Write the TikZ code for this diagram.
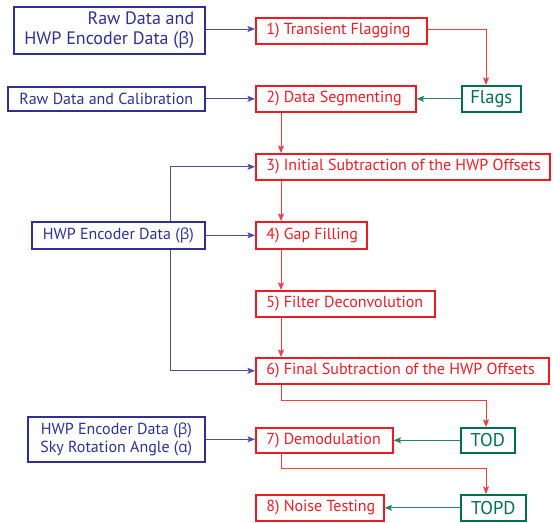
\documentclass[tikz,border=0pt]{standalone}
\usepackage{fontspec}
\setmainfont{PT Sans}
\newfontfamily\grk{Open Sans}[Scale=0.95]
\usetikzlibrary{arrows.meta,calc}
\setlength{\parindent}{0pt}
\definecolor{cred}{RGB}{237,28,36}
\definecolor{cblue}{RGB}{46,49,146}
\definecolor{cgreen}{RGB}{0,112,74}
\newcommand{\gb}{{\grk β}}
\newcommand{\ga}{{\grk α}}
\tikzset{
  every node/.style={font=\fontsize{16}{18.5}\selectfont},
  stepbox/.style={draw=cred, text=cred, line width=1.6pt, anchor=north west, inner sep=0pt},
  inbox/.style={draw=cblue, text=cblue, line width=1.6pt, anchor=north west, inner sep=0pt},
  bigbox/.style={inbox, font=\fontsize{18}{20.5}\selectfont},
  outbox/.style={draw=cgreen, text=cgreen, line width=1.6pt, anchor=north west, inner sep=0pt, font=\fontsize{18.5}{20}\selectfont},
  tip/.style={-{Stealth[length=7.5pt,width=6pt,inset=1.5pt]}},
  redline/.style={tip, draw=cred!85, line width=0.9pt},
  blueline/.style={tip, draw=cblue!85, line width=0.9pt},
  greenline/.style={tip, draw=cgreen!85, line width=0.9pt},
}
% generic box: name, style, x1, y1, x2, y2, text, alignment
\newcommand{\mybox}[8]{%
  \pgfmathsetlengthmacro{\bw}{(#5-#3)*1pt}%
  \pgfmathsetlengthmacro{\bh}{(#6-#4)*1pt}%
  \node[#2, minimum width=\bw, minimum height=\bh, align=#8] (#1) at (#3,#4) {#7};}
% step box with left aligned text: name, x1, y1, x2, y2, text
\newcommand{\stepnode}[6]{%
  \pgfmathsetlengthmacro{\bw}{(#4-#2)*1pt}%
  \pgfmathsetlengthmacro{\bh}{(#5-#3)*1pt}%
  \pgfmathsetlengthmacro{\tw}{(#4-#2-21)*1pt}%
  \node[stepbox, minimum width=\bw, minimum height=\bh] (#1) at (#2,#3) {\makebox[\tw][l]{#6}};}
\begin{document}
\begin{tikzpicture}[x=1pt,y=-1pt]
\useasboundingbox (0,0) rectangle (553,522);
% inputs
\mybox{inA}{bigbox}{13}{6}{204}{53}{Raw Data and\\HWP Encoder Data (\gb)}{right}
\mybox{inB}{inbox}{7}{86}{204}{110}{Raw Data and Calibration}{center}
\mybox{inC}{inbox}{31}{221}{204}{248}{HWP Encoder Data (\gb)}{center}
\mybox{inD}{inbox}{27}{416}{204}{461}{HWP Encoder Data (\gb)\\Sky Rotation Angle (\ga)}{center}
% steps
\stepnode{s1}{255}{17}{426}{43}{1) Transient Flagging}
\stepnode{s2}{255}{85}{415}{111}{2) Data Segmenting}
\stepnode{s3}{255}{153}{549}{179}{3) Initial Subtraction of the HWP Offsets}
\stepnode{s4}{255}{221}{366}{248}{4) Gap Filling}
\stepnode{s5}{255}{290}{434}{316}{5) Filter Deconvolution}
\stepnode{s6}{255}{357}{548}{383}{6) Final Subtraction of the HWP Offsets}
\stepnode{s7}{255}{427}{392}{452}{7) Demodulation}
\stepnode{s8}{255}{494}{383}{520}{8) Noise Testing}
% outputs
\mybox{flags}{outbox}{461}{85}{520}{111}{Flags}{center}
\mybox{tod}{outbox}{460}{427}{514}{452}{TOD}{center}
\mybox{topd}{outbox}{460}{494}{525}{520}{TOPD}{center}
% blue connectors
\draw[blueline] (inA.east |- 0,29) -- (s1.west |- 0,29);
\draw[blueline] (inB.east) -- (s2.west |- inB.east);
\draw[blueline] (inC.east) -- (s4.west |- inC.east);
\draw[blueline] (inC.north -| 170,0) |- (s3.west);
\draw[blueline] (inC.south -| 170,0) |- (s6.west);
\draw[blueline] (inD.east) -- (s7.west |- inD.east);
% red connectors
\draw[redline] (s1.east |- 0,29) -| (flags.north -| 486,0);
\draw[redline] (s2.south -| 281,0) -- (s3.north -| 281,0);
\draw[redline] (s3.south -| 281,0) -- (s4.north -| 281,0);
\draw[redline] (s4.south -| 281,0) -- (s5.north -| 281,0);
\draw[redline] (s5.south -| 281,0) -- (s6.north -| 281,0);
\coordinate (k6) at (281,400);
\coordinate (k7) at (281,468);
\draw[redline] (s6.south -| k6) -- (k6) -| (tod.north -| 486,0);
\draw[redline] (s7.south -| k7) -- (k7) -| (topd.north -| 486,0);
% green connectors
\draw[greenline] (flags.west) -- (s2.east);
\draw[greenline] (tod.west) -- (s7.east);
\draw[greenline] (topd.west) -- (s8.east);
\end{tikzpicture}
\end{document}
